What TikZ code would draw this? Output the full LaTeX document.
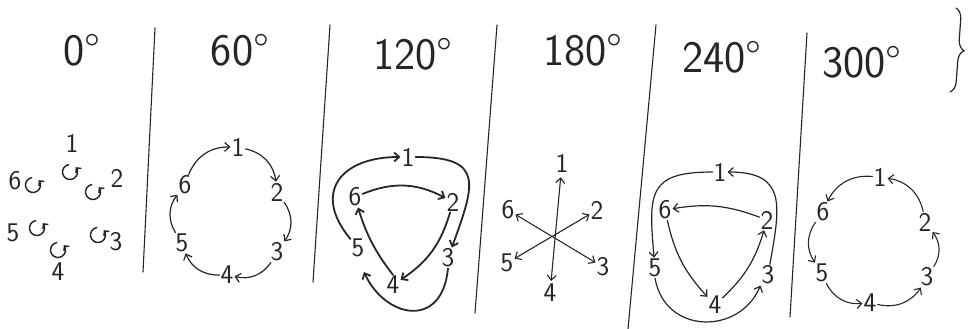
\documentclass[tikz,border=0pt]{standalone}
\usetikzlibrary{arrows.meta,decorations.pathreplacing}
\begin{document}
\begin{tikzpicture}[x=1pt,y=1pt,
  lbl/.style={font=\sffamily\fontsize{27}{27}\selectfont, inner sep=1pt, text=black!85},
  head/.style={font=\sffamily\fontsize{45}{45}\selectfont, inner sep=0pt, text=black!85},
  pen/.style={line width=1.2pt, draw=black!85, line cap=round},
  arr/.style={pen, -{Straight Barb[length=5pt,width=9pt]}},
  thick arr/.style={arr, line width=1.8pt},
  thin arr/.style={arr, line width=1.1pt},
  dbl/.style={pen, line width=1.1pt, {Straight Barb[length=5pt,width=9pt]}-{Straight Barb[length=5pt,width=9pt]}},
  divider/.style={line width=1.1pt, draw=black!85, line cap=round}]
\useasboundingbox (0,0) rectangle (974,-329);

% headings
\node[head] (h0) at (82,-50) {0\textdegree};
\node[head] (h60) at (240,-50) {60\textdegree};
\node[head] (h120) at (413,-54) {120\textdegree};
\node[head] (h180) at (583,-50) {180\textdegree};
\node[head] (h240) at (722,-57) {240\textdegree};
\node[head] (h300) at (862,-62) {300\textdegree};
\draw[pen, decorate, decoration={brace, amplitude=11pt}] (956,-8) -- (950,-92);

% dividers
\draw[divider] (155,-28) -- (143,-272);
\draw[divider] (330,-25) -- (313,-282);
\draw[divider] (497,-25) -- (475,-313);
\draw[divider] (656,-25) -- (628,-329);
\draw[divider] (807,-33) -- (790,-317);

% 0 degrees
\node[lbl] (z1) at (72,-143) {1};
\node[lbl] (z2) at (117,-178) {2};
\node[lbl] (z3) at (116,-242) {3};
\node[lbl] (z4) at (58,-272) {4};
\node[lbl] (z5) at (13,-233) {5};
\node[lbl] (z6) at (15,-181) {6};
\foreach \cx/\cy in {70/172, 33/185, 93/192, 37/228, 98/235, 58/250}{
  \draw[arr, line width=1.5pt, -{Straight Barb[length=3.5pt,width=7pt]}] (\cx,-\cy) ++(100:7.5) arc[start angle=100, end angle=400, radius=7.5];
}

% 60 degrees
\node[lbl] (a1) at (238,-147) {1};
\node[lbl] (a2) at (277,-192) {2};
\node[lbl] (a3) at (277,-252) {3};
\node[lbl] (a4) at (227,-275) {4};
\node[lbl] (a5) at (182,-243) {5};
\node[lbl] (a6) at (185,-185) {6};
\foreach \s/\t in {a1/a2, a2/a3, a3/a4, a4/a5, a5/a6, a6/a1}
  \draw[arr] (\s) to[bend left=35] (\t);

% 120 degrees
\node[lbl] (b1) at (408,-157) {1};
\node[lbl] (b2) at (453,-202) {2};
\node[lbl] (b3) at (448,-258) {3};
\node[lbl] (b4) at (393,-285) {4};
\node[lbl] (b5) at (358,-248) {5};
\node[lbl] (b6) at (355,-197) {6};
\coordinate (b5t) at (364,-272);
\draw[thick arr] (b1) to[out=0, in=70, looseness=1.8] (b3);
\draw[thick arr] (b3.south) .. controls (442,-330) and (385,-318) .. (b5t);
\draw[thick arr] (b5) to[out=130, in=180, looseness=1.6] (b1);
\draw[thick arr] (b6) to[bend left=25] (b2);
\draw[thick arr] (b2) to[bend left=20] (b4);
\draw[thick arr] (b4.north) to[bend left=10] (b6);

% 180 degrees
\node[lbl] (c1) at (562,-163) {1};
\node[lbl] (c2) at (597,-210) {2};
\node[lbl] (c3) at (603,-267) {3};
\node[lbl] (c4) at (550,-293) {4};
\node[lbl] (c5) at (507,-263) {5};
\node[lbl] (c6) at (508,-210) {6};
\draw[dbl, shorten <=4pt, shorten >=2pt] (c1) -- (c4);
\draw[dbl] (c6) -- (c3);
\draw[dbl] (c2) -- (c5);

% 240 degrees
\node[lbl] (d1) at (720,-172) {1};
\node[lbl] (d2) at (767,-220) {2};
\node[lbl] (d3) at (768,-275) {3};
\node[lbl] (d4) at (715,-305) {4};
\node[lbl] (d5) at (655,-268) {5};
\node[lbl] (d6) at (665,-210) {6};
\draw[arr] (d1) to[out=180, in=95, looseness=1.6] (d5);
\draw[arr] (d3) to[out=80, in=0, looseness=1.5] (d1);
\draw[arr] (d2) to[bend right=15] (d6);
\draw[arr] (d6) to[bend right=15] (d4);
\draw[arr] (d4) to[bend right=15] (d2);
\draw[arr] (d5.south) .. controls (665,-335) and (740,-335) .. (d3.south west);

% 300 degrees
\node[lbl] (e1) at (880,-177) {1};
\node[lbl] (e2) at (925,-222) {2};
\node[lbl] (e3) at (927,-277) {3};
\node[lbl] (e4) at (870,-303) {4};
\node[lbl] (e5) at (822,-273) {5};
\node[lbl] (e6) at (823,-212) {6};
\foreach \s/\t in {e1/e6, e6/e5, e5/e4, e4/e3, e3/e2, e2/e1}
  \draw[thin arr] (\s) to[bend right=35] (\t);
\end{tikzpicture}
\end{document}
